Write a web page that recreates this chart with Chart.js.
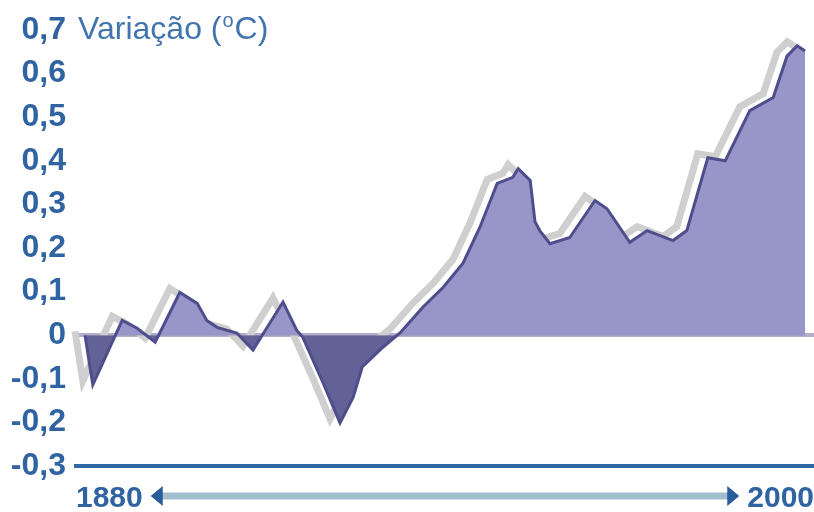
<!DOCTYPE html>
<html>
<head>
<meta charset="utf-8">
<script src="https://cdn.jsdelivr.net/npm/chart.js@4.4.1/dist/chart.umd.min.js"></script>
<style>
  html, body { margin: 0; padding: 0; background: #ffffff; }
  #wrap { width: 814px; height: 512px; }
</style>
</head>
<body>
<div id="wrap"><canvas id="grafico"></canvas></div>
<script>
// DATI ----------------------------------------
var anni = [1880, 1881.3, 1886.2, 1888.7, 1891.7, 1895.8, 1898.7, 1900.3, 1902, 1905.3,
  1908, 1913, 1915.3, 1916.3, 1919.7, 1922.5, 1924.7, 1926.2, 1929.7, 1932.5,
  1936.3, 1939.7, 1943, 1945.8, 1948.7, 1951.3, 1952.2, 1954.2, 1955, 1955.8,
  1957.5, 1960.8, 1965, 1967, 1970.8, 1973.7, 1978, 1980.3, 1983.8, 1986.7,
  1990.8, 1994.7, 1997, 1998.7, 2000];
var variazione = [0, -0.114, 0.034, 0.016, -0.016, 0.098, 0.073, 0.034, 0.018, 0.005,
  -0.034, 0.076, 0.011, -0.005, -0.11, -0.201, -0.142, -0.073, -0.027, 0.005,
  0.064, 0.11, 0.165, 0.247, 0.348, 0.362, 0.382, 0.355, 0.26, 0.24,
  0.21, 0.224, 0.309, 0.29, 0.213, 0.24, 0.217, 0.24, 0.407, 0.40,
  0.515, 0.545, 0.64, 0.664, 0.652];
var etichetteY = ['-0,3', '-0,2', '-0,1', '0', '0,1', '0,2', '0,3', '0,4', '0,5', '0,6', '0,7'];
var etichetteX = ['1880', '2000'];
var titolo = 'Variação (';
var titoloSup = 'o';
var titoloFine = 'C)';

var punti = anni.map(function(a, i){ return { x: a, y: variazione[i] }; });

var blu = '#2f63a1';

// OMBRA DELLA LINEA ----------------------------------------
var ombra = {
  id: 'ombra',
  beforeDatasetDraw: function(chart, args){
    if (args.index === 1) {
      chart.ctx.save();
      chart.ctx.translate(-10, -4);
    }
  },
  afterDatasetDraw: function(chart, args){
    if (args.index === 1) chart.ctx.restore();
  }
};

// TITOLO E FRECCIA ----------------------------------------
var decorazioni = {
  id: 'decorazioni',
  afterDraw: function(chart){
    var ctx = chart.ctx;
    var area = chart.chartArea;
    var y = chart.scales.y;
    var x = chart.scales.x;

    // titolo accanto a 0,7
    var ty = y.getPixelForValue(0.7);
    var tx = area.left + 2;
    ctx.save();
    ctx.fillStyle = '#4274ad';
    ctx.textBaseline = 'middle';
    ctx.font = '32px "Liberation Sans", Arial, sans-serif';
    ctx.fillText(titolo, tx, ty);
    tx += ctx.measureText(titolo).width;
    ctx.font = '20px "Liberation Sans", Arial, sans-serif';
    ctx.fillText(titoloSup, tx + 1, ty - 9);
    tx += ctx.measureText(titoloSup).width + 2;
    ctx.font = '32px "Liberation Sans", Arial, sans-serif';
    ctx.fillText(titoloFine, tx, ty);

    // freccia tra 1880 e 2000
    ctx.font = 'bold 30px "Liberation Sans", Arial, sans-serif';
    var w1 = ctx.measureText(etichetteX[0]).width;
    var w2 = ctx.measureText(etichetteX[1]).width;
    var ay = x.bottom - 16;
    var x1 = x.left + w1 + 8;
    var x2 = x.right - w2 - 8;
    ctx.strokeStyle = '#a1bdcf';
    ctx.lineWidth = 7;
    ctx.beginPath();
    ctx.moveTo(x1 + 10, ay);
    ctx.lineTo(x2 - 10, ay);
    ctx.stroke();
    ctx.fillStyle = '#2a5c9a';
    ctx.beginPath();
    ctx.moveTo(x1, ay);
    ctx.lineTo(x1 + 12, ay - 10);
    ctx.lineTo(x1 + 12, ay + 10);
    ctx.closePath();
    ctx.fill();
    ctx.beginPath();
    ctx.moveTo(x2, ay);
    ctx.lineTo(x2 - 12, ay - 10);
    ctx.lineTo(x2 - 12, ay + 10);
    ctx.closePath();
    ctx.fill();
    ctx.restore();
  }
};

// GRAFICO ----------------------------------------
var ctx = document.getElementById('grafico');
var chart = new Chart(ctx, {
  type: 'line',
  data: {
    datasets: [{
      data: punti,
      borderColor: '#4f4e8c',
      borderWidth: 3,
      pointRadius: 0,
      tension: 0,
      fill: { target: { value: 0 }, above: '#9896c8', below: '#636296' }
    }, {
      data: punti,
      borderColor: '#cfcfcf',
      borderWidth: 7,
      pointRadius: 0,
      tension: 0,
      fill: false,
      clip: false
    }]
  },
  options: {
    responsive: true,
    maintainAspectRatio: false,
    animation: false,
    layout: { padding: { top: 30, left: 0, right: 0, bottom: 0 } },
    plugins: {
      legend: { display: false },
      tooltip: { enabled: false }
    },
    scales: {
      x: {
        type: 'linear',
        min: 1878.5,
        max: 2001.5,
        afterBuildTicks: function(scale){
          scale.ticks = [{ value: scale.min }, { value: scale.max }];
        },
        afterFit: function(scale){
          scale.height = 46;
          scale.paddingLeft = 0;
          scale.paddingRight = 0;
        },
        grid: { display: false, drawTicks: false },
        border: { display: true, color: '#3068a4', width: 4 },
        ticks: {
          autoSkip: false,
          maxRotation: 0,
          align: 'inner',
          padding: 15,
          color: blu,
          font: { family: '"Liberation Sans", Arial, sans-serif', size: 30, weight: 'bold' },
          callback: function(v, i){ return etichetteX[i]; }
        }
      },
      y: {
        min: -0.3,
        max: 0.7,
        afterBuildTicks: function(scale){
          scale.ticks = etichetteY.map(function(t, i){ return { value: Math.round((i * 0.1 - 0.3) * 10) / 10 }; });
        },
        afterFit: function(scale){ scale.width = 76; },
        grid: {
          drawTicks: false,
          lineWidth: 4,
          color: function(c){ return (c.tick && c.tick.value === 0) ? '#b3afcb' : 'rgba(0,0,0,0)'; }
        },
        border: { display: false },
        ticks: {
          padding: 10,
          color: blu,
          font: { family: '"Liberation Sans", Arial, sans-serif', size: 32, weight: 'bold' },
          callback: function(v, i){ return etichetteY[i]; }
        }
      }
    }
  },
  plugins: [ombra, decorazioni]
});
</script>
</body>
</html>
